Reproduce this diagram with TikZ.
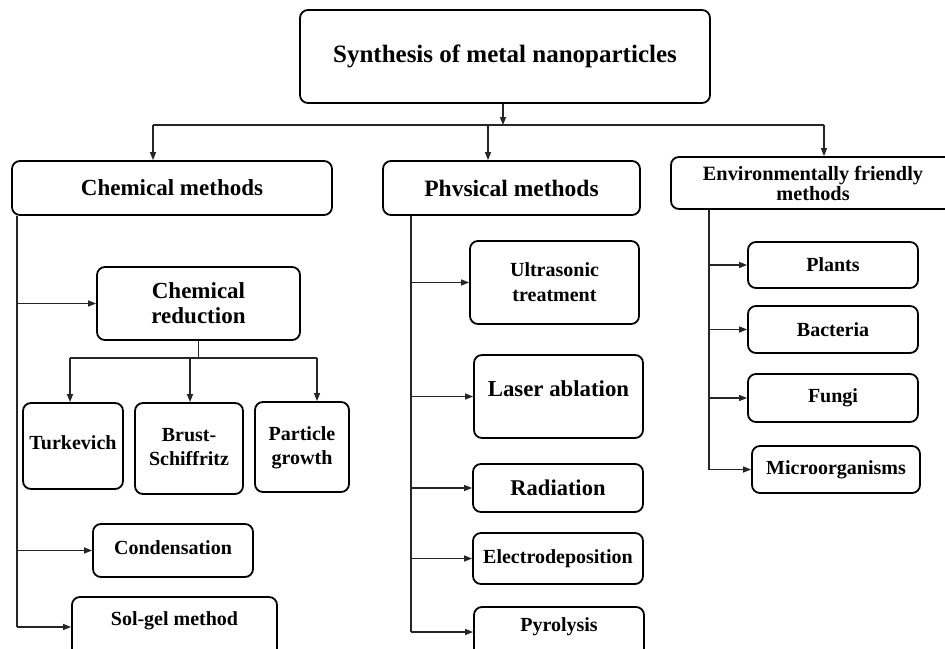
\documentclass[tikz,border=0pt]{standalone}
\usepackage{fontspec}
\setmainfont{Liberation Serif}
\usetikzlibrary{arrows.meta}
\newcommand{\fs}[1]{\fontsize{#1}{#1}\selectfont}
\begin{document}
\begin{tikzpicture}[x=1pt,y=-1pt,
  box/.style={draw=black, line width=1.8pt, rounded corners=8pt, fill=white, inner sep=0pt, align=center, font=\bfseries\fs{20}},
  conn/.style={draw=black!85, line width=1.3pt},
  arr/.style={conn, -{Triangle[length=8pt,width=6pt]}}]
\useasboundingbox (0,0) rectangle (945,648);
\clip (0,0) rectangle (945,648);
\fill[white] (0,0) rectangle (945,648);
% top
\node[box, minimum width=410, minimum height=93, font=\bfseries\fs{25}] (top) at (505,56.5) {\raisebox{-6pt}{Synthesis of metal nanoparticles}};
% level 1
\node[box, minimum width=320, minimum height=54, font=\bfseries\fs{23}] (chem) at (172,188) {Chemical methods};
\node[box, minimum width=257, minimum height=54, font=\bfseries\fs{23.5}] (phys) at (511.5,188) {Phvsical methods};
\node[box, minimum width=284, minimum height=52, font=\bfseries\fontsize{20.3}{20}\selectfont] (env) at (813,183) {Environmentally friendly\\methods};
% bus
\coordinate (bt) at (503,125);
\coordinate (bl) at (153,125);
\coordinate (bm) at (488,125);
\coordinate (br) at (824,125);
\draw[arr] (top.south -| bt) -- (bt);
\draw[conn] (bl) -- (br);
\draw[arr] (bl) -- (bl |- chem.north);
\draw[arr] (bm) -- (bm |- phys.north);
\draw[arr] (br) -- (br |- env.north);
% chemical branch
\node[box, minimum width=203, minimum height=73, font=\bfseries\fontsize{23}{25}\selectfont] (cred) at (198.5,303.5) {Chemical\\reduction};
\node[box, minimum width=100, minimum height=86] (turk) at (73,446) {\raisebox{6pt}{Turkevich}};
\node[box, minimum width=108, minimum height=91, font=\bfseries\fontsize{20}{25}\selectfont] (brust) at (189,448.5) {\raisebox{3pt}{\begin{tabular}{@{}c@{}}Brust-\\[-1pt]Schiffritz\end{tabular}}};
\node[box, minimum width=94, minimum height=90, font=\bfseries\fontsize{20}{25}\selectfont] (pg) at (302,447) {\raisebox{2pt}{\begin{tabular}{@{}c@{}}Particle\\[-1pt]growth\end{tabular}}};
\node[box, minimum width=160, minimum height=53] (cond) at (173,550.5) {\raisebox{5pt}{Condensation}};
\node[box, minimum width=205, minimum height=60] (solgel) at (174.5,627) {\raisebox{17pt}{Sol-gel method}};
\coordinate (ct) at (17,215);
\coordinate (cb) at (17,627);
\draw[conn] (ct |- chem.south) -- (cb);
\draw[arr] (ct |- cred.west) -- (cred.west);
\draw[arr] (ct |- cond.west) -- (cond.west);
\draw[arr] (cb) -- (solgel.west);
\coordinate (rb) at (198.5,358);
\coordinate (r1) at (70,358);
\coordinate (r2) at (190,358);
\coordinate (r3) at (317,358);
\draw[conn] (cred.south) -- (rb);
\draw[conn] (r1) -- (r3);
\draw[arr] (r1) -- (r1 |- turk.north);
\draw[arr] (r2) -- (r2 |- brust.north);
\draw[arr] (r3) -- (r3 |- pg.north);
% physical branch
\node[box, minimum width=169, minimum height=83, font=\bfseries\fontsize{20}{25}\selectfont] (ultra) at (554.5,282.5) {Ultrasonic\\treatment};
\node[box, minimum width=169, minimum height=83, font=\bfseries\fs{22.8}] (laser) at (558.5,396.5) {\raisebox{16pt}{Laser ablation}};
\node[box, minimum width=170, minimum height=48, font=\bfseries\fs{22.5}] (rad) at (558,488) {Radiation};
\node[box, minimum width=170, minimum height=51] (elec) at (558,558.5) {Electrodeposition};
\node[box, minimum width=170, minimum height=62] (pyro) at (559,638) {\raisebox{27pt}{Pyrolysis}};
\coordinate (pt) at (411,215);
\coordinate (pb) at (411,632);
\draw[conn] (pt |- phys.south) -- (pb);
\draw[arr] (pt |- ultra.west) -- (ultra.west);
\draw[arr] (pt |- laser.west) -- (laser.west);
\draw[arr] (pt |- rad.west) -- (rad.west);
\draw[arr] (pt |- elec.west) -- (elec.west);
\draw[arr] (pb) -- (pb -| pyro.west);
% environmental branch
\node[box, minimum width=170, minimum height=46] (plants) at (833,265) {Plants};
\node[box, minimum width=170, minimum height=47] (bact) at (833,329.5) {Bacteria};
\node[box, minimum width=170, minimum height=48] (fungi) at (833,398) {Fungi};
\node[box, minimum width=168, minimum height=47] (micro) at (836,469.5) {Microorganisms};
\coordinate (et) at (709,209);
\coordinate (eb) at (709,469.5);
\draw[conn] (et |- env.south) -- (eb);
\draw[arr] (et |- plants.west) -- (plants.west);
\draw[arr] (et |- bact.west) -- (bact.west);
\draw[arr] (et |- fungi.west) -- (fungi.west);
\draw[arr] (eb) -- (micro.west);
\end{tikzpicture}
\end{document}
